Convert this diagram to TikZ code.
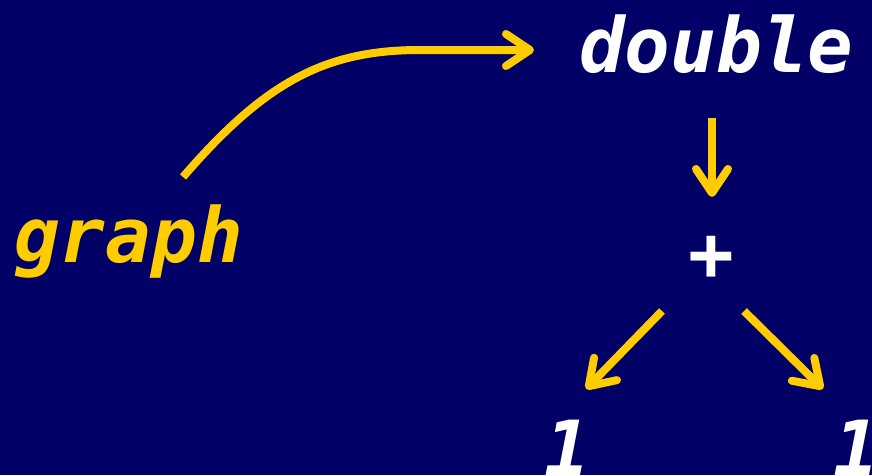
\documentclass[tikz,border=0pt]{standalone}
\usepackage{fontspec}
\setmonofont{DejaVu Sans Mono}
\usetikzlibrary{arrows.meta}
\definecolor{bg}{HTML}{000066}
\definecolor{ylw}{HTML}{FFCC00}
\tikzset{
  lbl/.style={inner sep=0pt, font=\fontsize{76}{80}\selectfont\ttfamily\bfseries\itshape},
  conn/.style={ylw, line width=8pt,
    -{Straight Barb[length=24pt,width=32pt,round]}}
}
\begin{document}
\begin{tikzpicture}[x=1pt,y=-1pt]
\fill[bg] (0,0) rectangle (872,475);
\useasboundingbox (0,0) rectangle (872,475);
\node[lbl, text=white, anchor=base west] (dbl) at (579,72) {double};
\node[lbl, text=ylw, anchor=base west] (gr) at (14,262) {graph};
\node[lbl, text=white, anchor=base] (plus) at (711,280) {+};
\node[lbl, text=white, anchor=base] (one1) at (567,475) {1};
\node[lbl, text=white, anchor=base] (one2) at (856,475) {1};
\coordinate (a1s) at (183,177);
\coordinate (a1m) at (420,50);
\coordinate (a1e) at (534,50);
\coordinate (a2s) at (712,118);
\coordinate (a2e) at (712,197);
\coordinate (a3s) at (662,311);
\coordinate (a3e) at (586,389);
\coordinate (a4s) at (744,311);
\coordinate (a4e) at (823,389);
\draw[conn] (a1s) .. controls (265,82) and (325,50) .. (a1m) -- (a1e);
\draw[conn] (a2s) -- (a2e);
\draw[conn] (a3s) -- (a3e);
\draw[conn] (a4s) -- (a4e);
\end{tikzpicture}
\end{document}
